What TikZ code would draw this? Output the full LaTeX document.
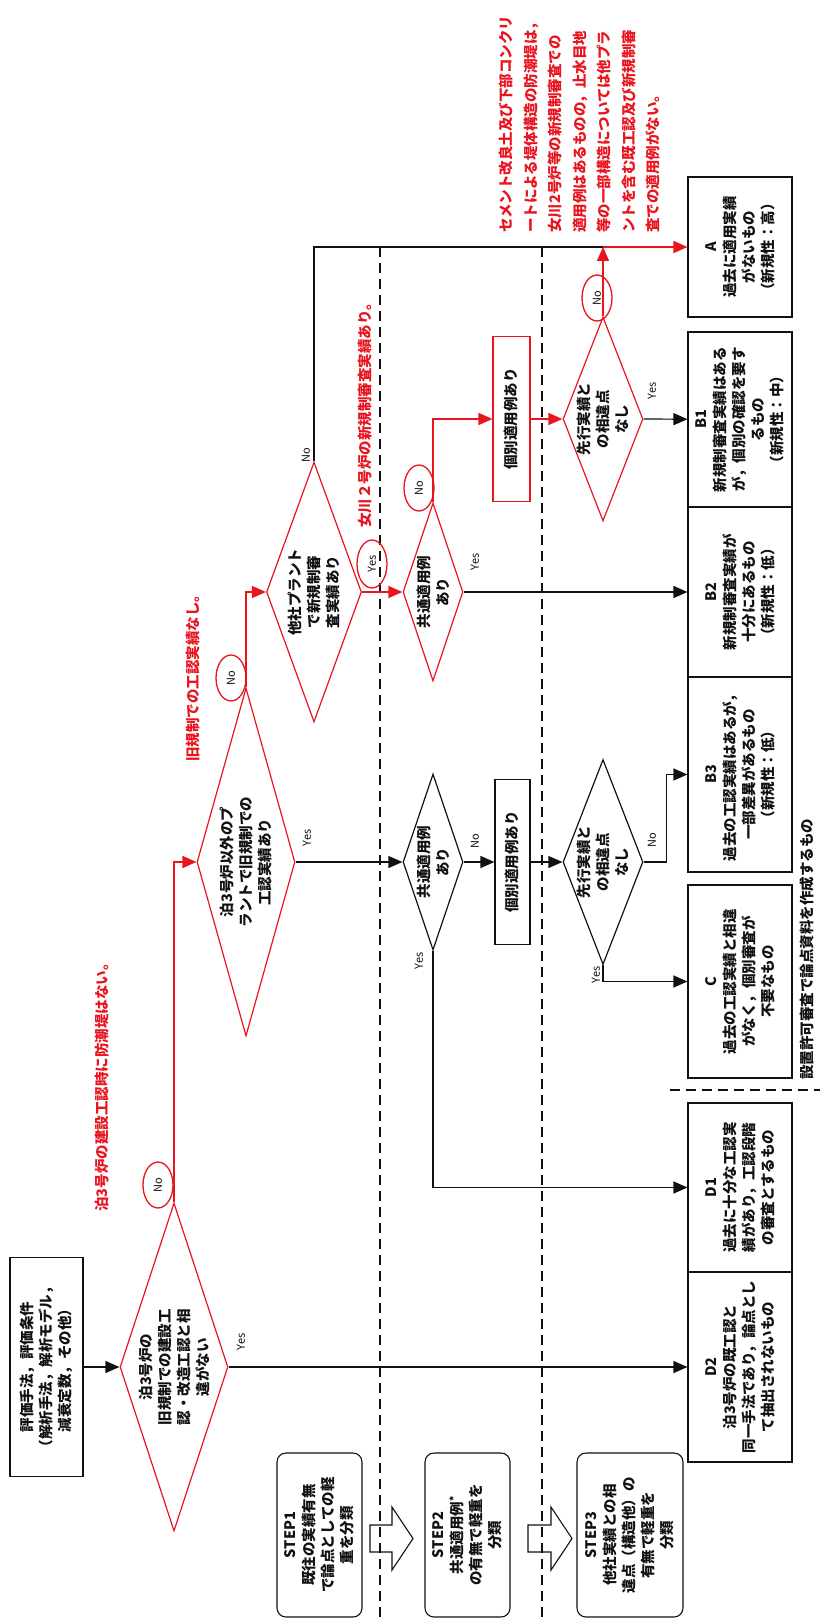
\documentclass[tikz,border=0pt]{standalone}
\usepackage{fontspec}
\setmainfont{Noto Sans CJK JP}
\usetikzlibrary{arrows.meta,shapes.geometric}
\definecolor{flowInk}{HTML}{111111}
\definecolor{flowRed}{HTML}{E8141E}
\tikzset{
  every picture/.style={font=\bfseries\fontsize{14.5}{19}\selectfont, text=flowInk},
  flow box/.style={draw=flowInk, line width=1.1pt, rotate=90, align=center, inner sep=1pt},
  flow step/.style={flow box, rounded corners=9pt},
  flow redbox/.style={flow box, draw=flowRed},
  flow dia/.style={diamond, draw=flowRed, line width=1.2pt, inner sep=0pt},
  flow blackdia/.style={flow dia, draw=flowInk},
  flow text/.style={rotate=90, align=center, inner sep=0pt},
  flow note/.style={rotate=90, text=flowRed, anchor=west, inner sep=0pt},
  flow tag/.style={rotate=90, font=\fontsize{11}{13}\selectfont, inner sep=0pt},
  flow ring/.style={flow tag, ellipse, draw=flowRed, line width=1.3pt,
    minimum width=46pt, minimum height=30pt},
  flow arrow/.style={-{Triangle[length=14pt,width=12pt]}, draw=flowInk, line width=1.2pt},
  flow redarrow/.style={flow arrow, draw=flowRed, line width=1.5pt},
  flow line/.style={draw=flowInk, line width=1.2pt},
  flow lane/.style={draw=flowInk, line width=1.1pt, dash pattern=on 10pt off 6pt},
  flow hollow/.style={draw=flowInk, line width=1.1pt}
}
\begin{document}
\begin{tikzpicture}[x=1pt,y=-1pt]
  \useasboundingbox (0,0) rectangle (820,1621);
  % step lanes
  \draw[flow lane] (380,247) -- (380,1617);
  \draw[flow lane] (542,247) -- (542,1617);
  \draw[flow lane] (670,1090) -- (820,1090);

  % start and steps
  \node[flow box, minimum width=219pt, minimum height=73pt] (start) at (46.5,1367)
    {評価手法，評価条件\\（解析手法，解析モデル，\\減衰定数，その他）};
  \node[flow step, minimum width=164pt, minimum height=85pt] (s1) at (319.5,1535)
    {STEP1\\既往の実績有無\\で論点としての軽\\重を分類};
  \node[flow step, minimum width=164pt, minimum height=85pt] (s2) at (467.5,1535)
    {STEP2\\共通適用例\textsuperscript{*}\\の有無で軽重を\\分類};
  \node[flow step, minimum width=164pt, minimum height=106pt] (s3) at (630,1535)
    {STEP3\\他社実績との相\\違点（構造他）の\\有無で軽重を\\分類};
  \foreach \ax/\sh in {370/22,528/23}
    \draw[flow hollow] (\ax,1525) -- ++(\sh,0) -- ++(0,-18) -- ++(21,31.5)
      -- ++(-21,31.5) -- ++(0,-18) -- ++(-\sh,0) -- cycle;

  % questions
  \node[flow dia, minimum width=108pt, minimum height=328pt] (q1) at (174,1367) {};
  \node[flow text] (q1t) at (q1) {泊3号炉の\\旧規制での建設工\\認・改造工認と相\\違がない};
  \node[flow dia, minimum width=98pt, minimum height=348pt] (q2) at (246,862) {};
  \node[flow text] (q2t) at (q2) {泊3号炉以外のプ\\ラントで旧規制での\\工認実績あり};
  \node[flow dia, minimum width=95pt, minimum height=260pt] (q3) at (314,592) {};
  \node[flow text] (q3t) at (q3) {他社プラント\\で新規制審\\査実績あり};
  \node[flow dia, minimum width=60pt, minimum height=178pt] (q4) at (433,592) {};
  \node[flow text] (q4t) at (q4) {共通適用例\\あり};
  \node[flow dia, minimum width=80pt, minimum height=204pt] (q5) at (603,419) {};
  \node[flow text] (q5t) at (q5) {先行実績と\\の相違点\\なし};
  \node[flow blackdia, minimum width=60pt, minimum height=176pt] (q6) at (433,862) {};
  \node[flow text] (q6t) at (q6) {共通適用例\\あり};
  \node[flow blackdia, minimum width=80pt, minimum height=205pt] (q7) at (603,862) {};
  \node[flow text] (q7t) at (q7) {先行実績と\\の相違点\\なし};
  \node[flow redbox, minimum width=165pt, minimum height=37pt] (rk) at (511.5,419) {個別適用例あり};
  \node[flow box, minimum width=165pt, minimum height=35pt] (bk) at (512.5,862) {個別適用例あり};

  % outcomes
  \node[flow box, minimum width=140pt, minimum height=104pt] (A) at (740,247)
    {A\\過去に適用実績\\がないもの\\（新規性：高）};
  \node[flow box, minimum width=175pt, minimum height=104pt] (B1) at (740,419.5)
    {B1\\新規制審査実績はある\\が，個別の確認を要す\\るもの\\（新規性：中）};
  \node[flow box, minimum width=170pt, minimum height=104pt] (B2) at (740,592)
    {B2\\新規制審査実績が\\十分にあるもの\\（新規性：低）};
  \node[flow box, minimum width=195pt, minimum height=104pt] (B3) at (740,774.5)
    {B3\\過去の工認実績はあるが，\\一部差異があるもの\\（新規性：低）};
  \node[flow box, minimum width=193pt, minimum height=104pt] (C) at (740,981.5)
    {C\\過去の工認実績と相違\\がなく，個別審査が\\不要なもの};
  \node[flow box, minimum width=169pt, minimum height=104pt] (D1) at (740,1187.5)
    {D1\\過去に十分な工認実\\績があり，工認段階\\の審査とするもの};
  \node[flow box, minimum width=190pt, minimum height=104pt] (D2) at (740,1367)
    {D2\\泊3号炉の既工認と\\同一手法であり，論点とし\\て抽出されないもの};

  % connectors
  \draw[flow arrow] (start) -- (q1.west);
  \draw[flow arrow] (q1.east) -- (D2);
  \draw[flow redarrow] (q1.north) |- (q2.west);
  \draw[flow arrow] (q2.east) -- (q6.west);
  \draw[flow redarrow] (q2.north) |- (q3.west);
  \draw[flow redarrow] (q3.east) -- (q4.west);
  \coordinate (jn) at (q5.north |- A);
  \draw[flow line] (q3.north) |- (jn);
  \draw[flow redarrow] (q5.north) -- (jn);
  \draw[flow redarrow] (jn) -- (A);
  \draw[flow arrow] (q4.east) -- (B2);
  \draw[flow redarrow] (q4.north) |- (rk);
  \draw[flow redarrow] (rk) -- (q5.west);
  \draw[flow arrow] (q5.east) -- (B1);
  \draw[flow arrow] (q6.east) -- (bk);
  \draw[flow arrow] (bk) -- (q7.west);
  \draw[flow arrow] (q7.east) -- ++(23,0) |- (B3);
  \draw[flow arrow] (q7.south) |- (C);
  \draw[flow arrow] (q6.south) |- (D1);

  % branch tags
  \node[flow ring] (n1) at (158,1185) {No};
  \node[flow ring] (n2) at (231,678) {No};
  \node[flow tag] (n3) at (306,455) {No};
  \node[flow ring, minimum width=48pt] (y3) at (372,564) {Yes};
  \node[flow ring] (n4) at (419,488) {No};
  \node[flow ring] (n5) at (597,298) {No};
  \node[flow tag] (y1) at (241,1342) {Yes};
  \node[flow tag] (y2) at (307,838) {Yes};
  \node[flow tag] (y4) at (475,562) {Yes};
  \node[flow tag] (y5) at (652,391) {Yes};
  \node[flow tag] (y6) at (419,961) {Yes};
  \node[flow tag] (y7) at (596,975) {Yes};
  \node[flow tag] (n6) at (475,841) {No};
  \node[flow tag] (n7) at (652,840) {No};

  % notes
  \node[flow note] (m1) at (102,1212) {泊3号炉の建設工認時に防潮堤はない。};
  \node[flow note] (m2) at (193,762) {旧規制での工認実績なし。};
  \node[flow note] (m3) at (365,528) {女川２号炉の新規制審査実績あり。};
  \node[flow note, anchor=north west, align=left, font=\bfseries\fontsize{14.5}{24.5}\selectfont] (m4) at (499,233)
    {セメント改良土及び下部コンクリ\\ートによる堤体構造の防潮堤は，\\女川2号炉等の新規制審査での\\適用例はあるものの，止水目地\\等の一部構造については他プラ\\ントを含む既工認及び新規制審\\査での適用例がない。};
  \node[flow note, text=flowInk] (m5) at (807,1080) {設置許可審査で論点資料を作成するもの};
\end{tikzpicture}
\end{document}
